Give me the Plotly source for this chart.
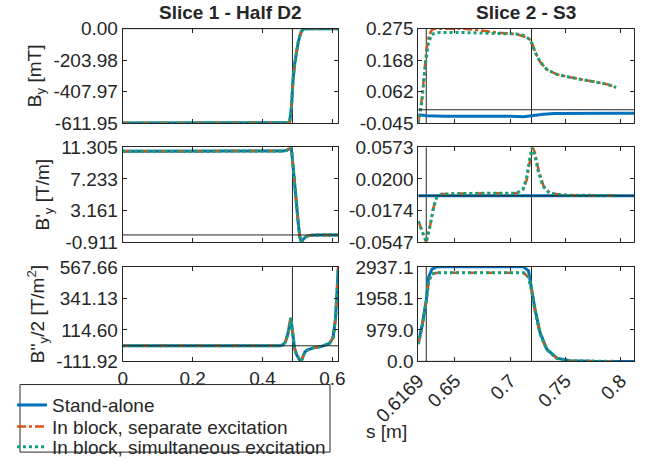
import plotly.graph_objects as go
from plotly.subplots import make_subplots

# ---------------- data ----------------
series_names = ["Stand-alone", "In block, separate excitation", "In block, simultaneous excitation"]
series_colors = ["#0072BD", "#D95319", "#13A37C"]
series_dash = ["solid", "dashdot", "dot"]
series_width = [3, 2.5, 3]

# Slice 1 - Half D2 (all three configurations coincide)
left_s_by = [0, 0.1, 0.2, 0.3, 0.4, 0.47, 0.476, 0.478, 0.4805, 0.483, 0.4852, 0.4874, 0.492,
             0.497, 0.502, 0.5066, 0.511, 0.516, 0.525, 0.55, 0.6, 0.6169]
left_by = [-611.95, -611.95, -611.95, -611.95, -611.95, -611.95, -610, -600, -560, -505, -420, -330,
           -230, -150, -90, -50, -20, -3, -0.5, -0.5, -0.5, -0.5]

left_s_dby = [0, 0.1, 0.2, 0.3, 0.4, 0.46, 0.47, 0.476, 0.481, 0.484, 0.4874, 0.491, 0.495, 0.499,
              0.503, 0.507, 0.511, 0.516, 0.522, 0.53, 0.54, 0.56, 0.6, 0.6169]
left_dby = [10.82, 10.82, 10.82, 10.82, 10.82, 10.84, 10.95, 11.1, 11.3, 10.6, 8.8, 6.8, 4.9, 3.0,
            1.2, -0.3, -0.91, -0.6, -0.3, -0.12, -0.05, -0.02, 0, 0]

left_s_ddby = [0, 0.1, 0.2, 0.3, 0.4, 0.45, 0.459, 0.466, 0.473, 0.478, 0.481, 0.4845, 0.4874, 0.492,
               0.497, 0.502, 0.507, 0.511, 0.516, 0.521, 0.528, 0.535, 0.545, 0.556, 0.57, 0.585,
               0.5923, 0.6017, 0.6086, 0.613, 0.6169]
left_ddby = [0, 0, 0, 0, 0, 1, 8, 30, 90, 160, 200, 130, 60, -20, -60, -85, -105, -110, -70, -45,
             -30, -22, -15, -10, -3, 10, 20, 57, 187, 376, 567.66]

# Slice 2 - S3
right_s_by_blue = [0.6169, 0.625, 0.64, 0.66, 0.68, 0.70, 0.712, 0.72, 0.73, 0.74, 0.76, 0.78, 0.80, 0.812]
right_by_blue = [-0.017, -0.020, -0.022, -0.022, -0.021, -0.022, -0.024, -0.020, -0.015, -0.013,
                 -0.012, -0.012, -0.012, -0.012]
right_s_by_orange = [0.6169, 0.6202, 0.6232, 0.6241, 0.6262, 0.6277, 0.6292, 0.6307, 0.6337, 0.645,
                     0.6578, 0.6729, 0.688, 0.706, 0.712, 0.7151, 0.7193, 0.7226, 0.7271, 0.7331,
                     0.7422, 0.7542, 0.7723, 0.7874, 0.7958]
right_by_orange = [-0.045, 0.04, 0.16, 0.2, 0.245, 0.262, 0.27, 0.274, 0.275, 0.2748, 0.2745, 0.2694,
                   0.2617, 0.256, 0.25, 0.245, 0.234, 0.1953, 0.1621, 0.1366, 0.12, 0.11, 0.0977,
                   0.0868, 0.0758]
right_s_by_green = [0.6169, 0.6202, 0.6232, 0.6262, 0.6292, 0.6337, 0.6578, 0.688, 0.706, 0.712,
                    0.7151, 0.7181, 0.7226, 0.7271, 0.7331, 0.7422, 0.7542, 0.7723, 0.7874, 0.7958]
right_by_green = [-0.045, 0.030, 0.151, 0.2285, 0.256, 0.2617, 0.2617, 0.2594, 0.257, 0.252, 0.245,
                  0.238, 0.1953, 0.1621, 0.1366, 0.12, 0.11, 0.0977, 0.0868, 0.0758]

right_s_dby_blue = [0.6169, 0.65, 0.70, 0.75, 0.812]
right_dby_blue = [0.0, 0.0, 0.0, 0.0, 0.0]
right_s_dby_orange = [0.6169, 0.6202, 0.6241, 0.6277, 0.6307, 0.6337, 0.6382, 0.6578, 0.688, 0.706,
                      0.712, 0.7151, 0.7181, 0.7205, 0.7226, 0.7256, 0.7301, 0.7361, 0.7482, 0.7783,
                      0.7958]
right_dby_orange = [-0.030, -0.0424, -0.0547, -0.0346, -0.0134, -0.0010, 0.0021, 0.0028, 0.0028,
                    0.0032, 0.0079, 0.0195, 0.0427, 0.0573, 0.0503, 0.0311, 0.0117, 0.0032, 0.0009,
                    0.0003, 0.0002]
right_s_dby_green = [0.6169, 0.6202, 0.6241, 0.6277, 0.6307, 0.6337, 0.6382, 0.6578, 0.688, 0.706,
                     0.7115, 0.7145, 0.7175, 0.7198, 0.722, 0.725, 0.7295, 0.7355, 0.7482, 0.7783,
                     0.7958]
right_dby_green = [-0.030, -0.0424, -0.0547, -0.0346, -0.0134, -0.0010, 0.0021, 0.0028, 0.0028,
                   0.0032, 0.0079, 0.0195, 0.0427, 0.0573, 0.0503, 0.0311, 0.0117, 0.0032, 0.0009,
                   0.0003, 0.0002]

right_s_ddby_blue = [0.6169, 0.6202, 0.6241, 0.6262, 0.6292, 0.6337, 0.66, 0.69, 0.712, 0.7166,
                     0.7193, 0.7226, 0.7271, 0.7331, 0.7422, 0.7542, 0.7783, 0.812]
right_ddby_blue = [587, 1095, 1903, 2614, 2867, 2937, 2937, 2937, 2937, 2816, 2310, 1600, 890, 381,
                   100, 18, 0, 0]
right_s_ddby_block = [0.6169, 0.6202, 0.6241, 0.6262, 0.6292, 0.6337, 0.66, 0.69, 0.712, 0.7166,
                      0.7193, 0.7226, 0.7271, 0.7331, 0.7422, 0.7542, 0.7783, 0.7958]
right_ddby_block = [535, 1043, 1853, 2462, 2715, 2755, 2755, 2755, 2755, 2614, 2208, 1550, 840, 360,
                    95, 15, 0, 0]

# edges of magnetic regions (vertical marker lines)
left_edges = [0.4857]
right_edges = [0.6241, 0.7193]

# axis ticks
left_xticks = [0, 0.2, 0.4, 0.6]
left_xticklabels = ["0", "0.2", "0.4", "0.6"]
right_xticks = [0.6169, 0.65, 0.7, 0.75, 0.8]
right_xticklabels = ["0.6169", "0.65", "0.7", "0.75", "0.8"]
left_xrange = [0, 0.6169]
right_xrange = [0.6169, 0.812]

yticks = {
    (1, 1): ([-611.95, -407.97, -203.98, 0.00], ["-611.95", "-407.97", "-203.98", "0.00"]),
    (2, 1): ([-0.911, 3.161, 7.233, 11.305], ["-0.911", "3.161", "7.233", "11.305"]),
    (3, 1): ([-111.92, 114.60, 341.13, 567.66], ["-111.92", "114.60", "341.13", "567.66"]),
    (1, 2): ([-0.045, 0.062, 0.168, 0.275], ["-0.045", "0.062", "0.168", "0.275"]),
    (2, 2): ([-0.0547, -0.0174, 0.0200, 0.0573], ["-0.0547", "-0.0174", "0.0200", "0.0573"]),
    (3, 2): ([0.0, 979.0, 1958.1, 2937.1], ["0.0", "979.0", "1958.1", "2937.1"]),
}
ylabels = ["B<sub>y</sub> [mT]", "B'<sub>y</sub> [T/m]", "B''<sub>y</sub>/2 [T/m<sup>2</sup>]"]
titles = ["<b>Slice 1 - Half D2</b>", "<b>Slice 2 - S3</b>"]

# ---------------- figure ----------------
W, H = 648, 466


def px(x):
    return x / W


def py(y):
    return 1 - y / H


fig = make_subplots(rows=3, cols=2)

panel_data = {
    (1, 1): [(left_s_by, left_by)] * 3,
    (2, 1): [(left_s_dby, left_dby)] * 3,
    (3, 1): [(left_s_ddby, left_ddby)] * 3,
    (1, 2): [(right_s_by_blue, right_by_blue), (right_s_by_orange, right_by_orange),
             (right_s_by_green, right_by_green)],
    (2, 2): [(right_s_dby_blue, right_dby_blue), (right_s_dby_orange, right_dby_orange),
             (right_s_dby_green, right_dby_green)],
    (3, 2): [(right_s_ddby_blue, right_ddby_blue), (right_s_ddby_block, right_ddby_block),
             (right_s_ddby_block, right_ddby_block)],
}

AX = "#262626"
FONT = "Liberation Sans, Arial, sans-serif"
legend_ids = ["legend", "legend2", "legend3"]

for (r, c), lst in panel_data.items():
    for i, (xs, ys) in enumerate(lst):
        fig.add_trace(go.Scatter(
            x=xs, y=ys, mode="lines", name=series_names[i],
            line=dict(color=series_colors[i], dash=series_dash[i], width=series_width[i]),
            showlegend=(r == 1 and c == 1), legend=legend_ids[i]),
            row=r, col=c)

xdom = {1: [px(122.7), px(338.3)], 2: [px(418.3), px(634)]}
ydom = {1: [py(125.7), py(29.3)], 2: [py(247.3), py(150.7)], 3: [py(369.3), py(272.7)]}

for r in (1, 2, 3):
    for c in (1, 2):
        tv, tt = yticks[(r, c)]
        fig.update_yaxes(row=r, col=c, domain=ydom[r], range=[tv[0], tv[-1]], automargin=False,
                         tickvals=tv, ticktext=tt, ticks="inside", ticklen=4, tickcolor=AX,
                         showline=True, linecolor=AX, linewidth=1, mirror="ticks",
                         showgrid=False, zeroline=False,
                         tickfont=dict(family=FONT, size=19, color=AX),
                         title=dict(text=ylabels[r - 1] if c == 1 else "",
                                    font=dict(family=FONT, size=19, color=AX), standoff=6))
        if c == 1:
            xt, xl, xr = left_xticks, left_xticklabels, left_xrange
        else:
            xt, xl, xr = right_xticks, right_xticklabels, right_xrange
        fig.update_xaxes(row=r, col=c, domain=xdom[c], range=xr, automargin=False,
                         tickvals=xt, ticktext=xl, showticklabels=(r == 3),
                         ticks="inside", ticklen=4, tickcolor=AX,
                         showline=True, linecolor=AX, linewidth=1, mirror="ticks",
                         showgrid=False, zeroline=False,
                         tickangle=(-45 if c == 2 else 0),
                         tickfont=dict(family=FONT, size=19, color=AX))

# reference lines: y = 0 and magnet edges
shapes = []
for idx in range(1, 7):
    c = (idx - 1) % 2 + 1
    xa = "x" if idx == 1 else f"x{idx}"
    ya = "y" if idx == 1 else f"y{idx}"
    shapes.append(dict(type="line", xref=f"{xa} domain", yref=ya, x0=0, x1=1, y0=0, y1=0,
                       line=dict(color=AX, width=1), layer="above"))
    for e in (left_edges if c == 1 else right_edges):
        shapes.append(dict(type="line", xref=xa, yref=f"{ya} domain", x0=e, x1=e, y0=0, y1=1,
                           line=dict(color=AX, width=1), layer="below"))

# legend frame
shapes.append(dict(type="rect", xref="paper", yref="paper",
                   x0=px(20), x1=px(330), y0=py(462), y1=py(393),
                   line=dict(color=AX, width=1), fillcolor="rgba(0,0,0,0)", layer="above"))

annotations = [
    dict(text=titles[0], x=px(230.5), y=py(13), xref="paper", yref="paper", showarrow=False,
         xanchor="center", yanchor="middle", font=dict(family=FONT, size=19, color=AX)),
    dict(text=titles[1], x=px(526), y=py(13), xref="paper", yref="paper", showarrow=False,
         xanchor="center", yanchor="middle", font=dict(family=FONT, size=19, color=AX)),
    dict(text="s [m]", x=px(386), y=py(441), xref="paper", yref="paper", showarrow=False,
         xanchor="center", yanchor="middle", font=dict(family=FONT, size=19, color=AX)),
]

legend_style = dict(x=px(12), xanchor="left", yanchor="middle", borderwidth=0,
                    bgcolor="rgba(0,0,0,0)", font=dict(family=FONT, size=19, color=AX),
                    itemwidth=30)

fig.update_layout(
    width=W, height=H, margin=dict(l=0, r=0, t=0, b=0),
    paper_bgcolor="white", plot_bgcolor="white",
    shapes=shapes, annotations=annotations,
    legend=dict(y=py(414), **legend_style),
    legend2=dict(y=py(436), **legend_style),
    legend3=dict(y=py(457), **legend_style),
)

fig.write_html("out.html", config={"displayModeBar": False},
               post_script="document.body.style.margin='0';document.body.style.overflow='hidden';"
                           "window.scrollTo(0,0);")
